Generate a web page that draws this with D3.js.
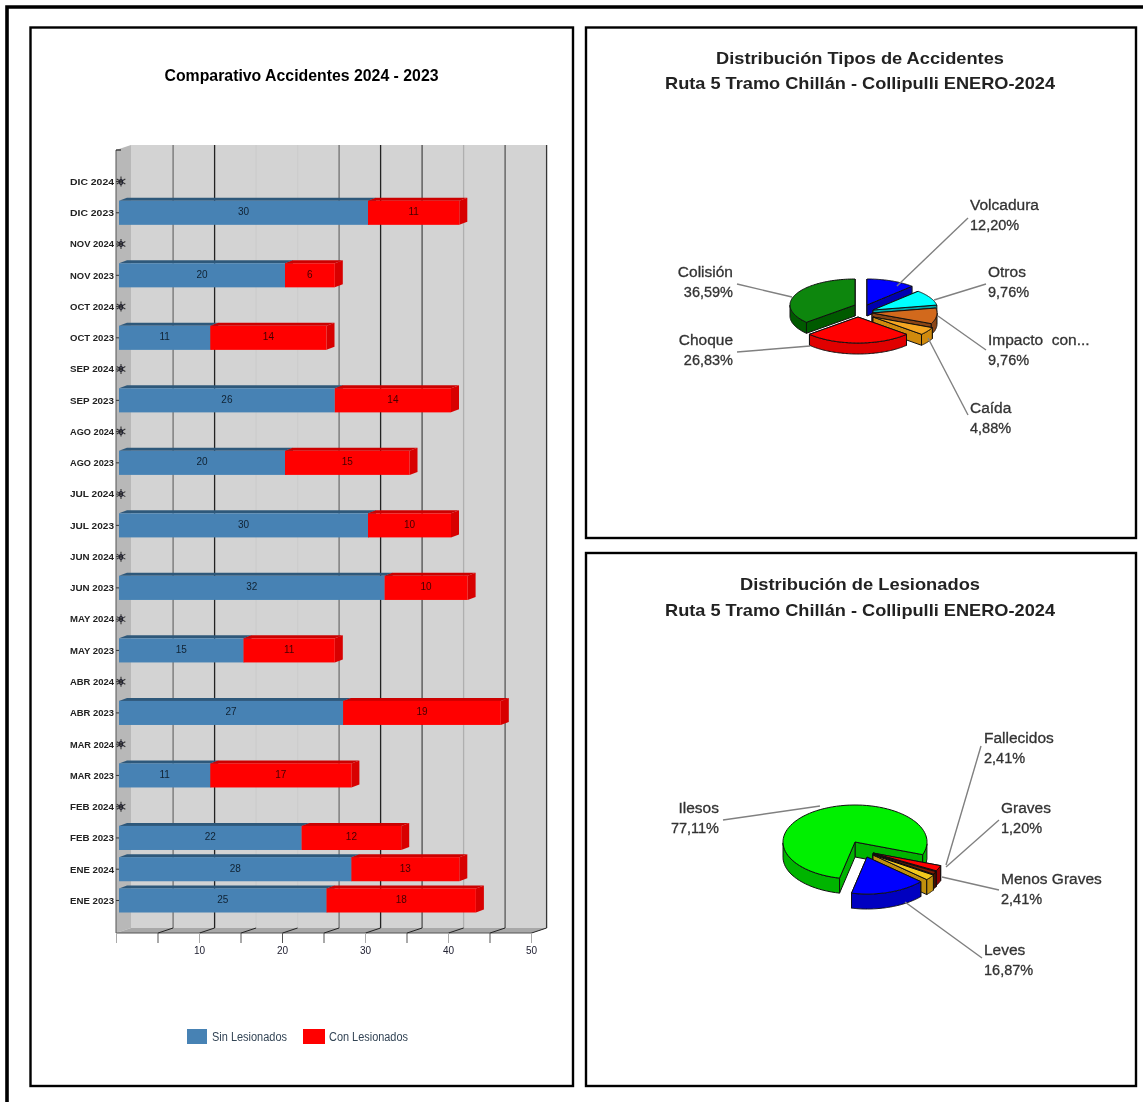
<!DOCTYPE html>
<html><head><meta charset="utf-8">
<script src="https://cdn.jsdelivr.net/npm/d3@7"></script>
<style>html,body{margin:0;padding:0;background:#fff;overflow:hidden}svg{display:block}text{font-family:"Liberation Sans",Arial,sans-serif;white-space:pre}</style>
</head><body><div id="c"></div>
<script>
const categories=["DIC 2024","DIC 2023","NOV 2024","NOV 2023","OCT 2024","OCT 2023","SEP 2024","SEP 2023","AGO 2024","AGO 2023","JUL 2024","JUL 2023","JUN 2024","JUN 2023","MAY 2024","MAY 2023","ABR 2024","ABR 2023","MAR 2024","MAR 2023","FEB 2024","FEB 2023","ENE 2024","ENE 2023"];
const sinLesionados=[0,30,0,20,0,11,0,26,0,20,0,30,0,32,0,15,0,27,0,11,0,22,28,25];
const conLesionados=[0,11,0,6,0,14,0,14,0,15,0,10,0,10,0,11,0,19,0,17,0,12,13,18];
const seriesNames=["Sin Lesionados","Con Lesionados"];
const xTicks=[10,20,30,40,50];
const tipos=["Volcadura","Otros","Impacto  con...","Caída","Choque","Colisión"];
const tiposPct=[12.20,9.76,9.76,4.88,26.83,36.59];
const lesionados=["Fallecidos","Graves","Menos Graves","Leves","Ilesos"];
const lesionadosPct=[2.41,1.20,2.41,16.87,77.11];

(function(){
const svg=d3.select("#c").append("svg").attr("width",1143).attr("height",1102);
const defs=svg.append("defs");
defs.append("filter").attr("id","soft").attr("filterUnits","userSpaceOnUse").attr("x",0).attr("y",0).attr("width",1143).attr("height",1102)
  .append("feGaussianBlur").attr("stdDeviation",0.45);
defs.append("filter").attr("id","soft2").attr("filterUnits","userSpaceOnUse").attr("x",0).attr("y",0).attr("width",1143).attr("height",1102)
  .append("feGaussianBlur").attr("stdDeviation",0.3);

// frames
svg.append("path").attr("d","M7,1102V7H1143").attr("fill","none").attr("stroke","#000").attr("stroke-width",3.6);
[[30.5,27.5,542.5,1058.5],[586,27.5,550,510.5],[586,553,550,533]].forEach(r=>{
  svg.append("rect").attr("x",r[0]).attr("y",r[1]).attr("width",r[2]).attr("height",r[3]).attr("fill","#fff").attr("stroke","#000").attr("stroke-width",2.4);
});

// ===== bar chart =====
const x=d3.scaleLinear().domain([0,50]).range([116,531]);
const y=d3.scaleBand().domain(categories).range([169.5,912.5]).paddingInner(0.23).paddingOuter(0);
const g=svg.append("g").attr("filter","url(#soft)");
const topY=145,bot=928,wallDX=15,wallDY=5;
g.append("rect").attr("x",131).attr("y",topY).attr("width",416).attr("height",bot-topY).attr("fill","#d3d3d3");
g.append("path").attr("d",`M${116},${topY+wallDY}L${131},${topY}V${bot}L116,${bot+wallDY}Z`).attr("fill","#b8b8b8");
g.append("path").attr("d",`M116,${bot+wallDY}L131,${bot}H547L532,${bot+wallDY}Z`).attr("fill","#a8a8a8");
g.append("path").attr("d",`M116,${topY+wallDY}V${bot+wallDY}H532`).attr("fill","none").attr("stroke","#555").attr("stroke-width",1);
g.append("line").attr("x1",116).attr("x2",121).attr("y1",topY+wallDY).attr("y2",topY+wallDY).attr("stroke","#222").attr("stroke-width",1.2);
// back grid lines
const gridVals=d3.range(5,51,5);
const gridOp={5:.55,10:1,15:.03,20:.03,25:.55,30:1,35:.75,40:.2,45:.7,50:.9};
g.selectAll(".gl").data(gridVals).enter().append("line").attr("class","gl")
  .attr("x1",d=>x(d)+wallDX+0.6).attr("x2",d=>x(d)+wallDX+0.6).attr("y1",topY).attr("y2",bot)
  .attr("stroke","#222").attr("stroke-width",1.3).attr("stroke-opacity",d=>gridOp[d]);
g.selectAll(".gs").data(gridVals).enter().append("line").attr("class","gs")
  .attr("x1",d=>x(d)+0.6).attr("x2",d=>x(d)+wallDX+0.6).attr("y1",bot+wallDY).attr("y2",bot)
  .attr("stroke","#222").attr("stroke-width",1);
// axis ticks below
const axis=d3.axisBottom(x).tickValues(d3.range(0,51,5)).tickSize(10).tickFormat(d=>xTicks.includes(d)?d:"");
const ax=g.append("g").attr("transform",`translate(0,${bot+wallDY})`).call(axis);
ax.select(".domain").remove();
ax.selectAll(".tick line").attr("stroke",d=>d%10===5||d===20?"#555":"#aaa");
ax.selectAll("text").attr("font-size",10).attr("fill","#223").attr("y",14);
// category labels
const yc=d=>y(d)+y.bandwidth()/2;
g.selectAll(".cat").data(categories).enter().append("text").attr("class","cat")
  .attr("x",114).attr("y",yc).attr("dy","0.35em").attr("text-anchor","end")
  .attr("font-size",9.5).attr("font-weight","bold").attr("fill","#222").attr("textLength",44).attr("lengthAdjust","spacingAndGlyphs").text(d=>d);
g.selectAll(".ctick").data(categories).enter().append("line").attr("class","ctick")
  .attr("x1",116).attr("x2",120).attr("y1",yc).attr("y2",yc).attr("stroke","#333");
// bars
const barDX=3,depthX=8,depthY=3;
const rows=categories.map((c,i)=>({c,a:sinLesionados[i],b:conLesionados[i]}));
const seg=g.selectAll(".row").data(rows.filter(r=>r.a+r.b>0)).enter().append("g").attr("class","row");
function box(sel,v0,v1,col,topc,sidec){
  sel.append("path").attr("d",d=>{const X0=x(v0(d))+barDX,X1=x(v1(d))+barDX,Y=y(d.c);return `M${X0},${Y}L${X0+depthX},${Y-depthY}H${X1+depthX}L${X1},${Y}Z`}).attr("fill",topc);
  sel.append("path").attr("d",d=>{const X1=x(v1(d))+barDX,Y=y(d.c),H=y.bandwidth();return `M${X1},${Y}L${X1+depthX},${Y-depthY}V${Y+H-depthY}L${X1},${Y+H}Z`}).attr("fill",sidec);
  sel.append("rect").attr("x",d=>x(v0(d))+barDX).attr("y",d=>y(d.c)).attr("width",d=>x(v1(d))-x(v0(d))).attr("height",y.bandwidth()).attr("fill",col);
}
box(seg,d=>0,d=>d.a,"#4682b4","#2f587a","#2f587a");
box(seg,d=>d.a,d=>d.a+d.b,"#ff0000","#cc0000","#d80000");
seg.append("text").attr("x",d=>x(d.a/2)+barDX).attr("y",d=>yc(d.c)-1).attr("dy","0.35em").attr("text-anchor","middle").attr("font-size",10).attr("fill","#123").text(d=>d.a);
seg.append("text").attr("x",d=>x(d.a+d.b/2)+barDX).attr("y",d=>yc(d.c)-1).attr("dy","0.35em").attr("text-anchor","middle").attr("font-size",10).attr("fill","#400").text(d=>d.b);
// zero labels on empty rows
const zr=rows.filter(r=>r.a+r.b===0);
const star=d3.symbol().type(d3.symbolAsterisk||d3.symbolCross).size(70);
g.selectAll(".zs").data(zr).enter().append("path").attr("class","zs").attr("d",star).attr("transform",d=>`translate(121,${yc(d.c)})`).attr("fill","none").attr("stroke","#333").attr("stroke-width",1.1);
g.selectAll(".zt").data(zr).enter().append("text").attr("class","zt").attr("x",121).attr("y",d=>yc(d.c)).attr("dy","0.35em").attr("text-anchor","middle").attr("font-size",9).attr("font-weight","bold").attr("fill","#223").text("0");
// legend
const legX=[187,303],legW=[20,22],legT=[212,329],legL=[75,79],legC=["#4682b4","#ff0000"];
seriesNames.forEach((n,i)=>{
  g.append("rect").attr("x",legX[i]).attr("y",1029).attr("width",legW[i]).attr("height",15).attr("fill",legC[i]);
  g.append("text").attr("x",legT[i]).attr("y",1041).attr("font-size",12).attr("fill","#345").attr("textLength",legL[i]).attr("lengthAdjust","spacingAndGlyphs").text(n);
});
// titles
function title(t,cx,yy,len,fs,col){svg.append("text").attr("filter","url(#soft2)").attr("x",cx).attr("y",yy).attr("text-anchor","middle").attr("font-size",fs).attr("font-weight","bold").attr("fill",col).attr("textLength",len).attr("lengthAdjust","spacingAndGlyphs").text(t);}
title("Comparativo Accidentes 2024 - 2023",301.5,81,274,17,"#000");
title("Distribución Tipos de Accidentes",860,64,288,17,"#222");
title("Ruta 5 Tramo Chillán - Collipulli ENERO-2024",860,89,390,17,"#222");
title("Distribución de Lesionados",860,590,240,17,"#222");
title("Ruta 5 Tramo Chillán - Collipulli ENERO-2024",860,616,390,17,"#222");

// ===== pies =====
function pie3d(opts){
  const pg=svg.append("g").attr("filter","url(#soft2)");
  const pie=d3.pie().sort(null).startAngle(opts.start).endAngle(opts.start+2*Math.PI);
  const arcs=pie(opts.values).map((a,i)=>({...a,i,mid:(a.startAngle+a.endAngle)/2}));
  const pt=(a,r,ox,oy,z)=>[opts.cx+ox+Math.sin(a)*opts.rx*r,opts.cy+oy-Math.cos(a)*opts.ry*r+z];
  const line=d3.line();
  const order=arcs.slice().sort((p,q)=>(opts.off[p.i][1]-Math.cos(p.mid)*opts.ry*.5)-(opts.off[q.i][1]-Math.cos(q.mid)*opts.ry*.5));
  order.forEach(s=>{
    const [ox,oy]=opts.off[s.i],T=opts.thick,A=s.startAngle,B=s.endAngle;
    const samples=d3.range(0,81).map(k=>A+(B-A)*k/80);
    const stroke="#111",sw=1;
    const face=[pt(0,0,ox,oy,0),...samples.map(a=>pt(a,1,ox,oy,0))];
    const wall=(pts)=>pg.append("path").attr("d",line(pts)+"Z").attr("fill",opts.wall[s.i]).attr("stroke",stroke).attr("stroke-width",sw).attr("stroke-linejoin","round");
    // radial walls
    [A,B].map(a=>[a,pt(a,1,ox,oy,0)]).sort((u,v)=>u[1][1]-v[1][1]).forEach(([a,p])=>{
      const c=pt(0,0,ox,oy,0);
      wall([c,p,[p[0],p[1]+T],[c[0],c[1]+T]]);
    });
    // outer rim: each contiguous front-facing run
    let run=[];
    const flush=()=>{ if(run.length>1){
        const upper=run.map(a=>pt(a,1,ox,oy,0));
        const lower=run.map(a=>pt(a,1,ox,oy,T)).reverse();
        wall([...upper,...lower]);
      } run=[]; };
    samples.forEach(a=>{ if(Math.cos(a)<0) run.push(a); else flush(); });
    flush();
    pg.append("path").attr("d",line(face)+"Z").attr("fill",opts.colors[s.i]).attr("stroke",stroke).attr("stroke-width",sw).attr("stroke-linejoin","round");
  });
  // leaders and labels
  opts.values.forEach((v,i)=>{
    const L=opts.labels[i];
    pg.append("path").attr("d",line(L.leader)).attr("fill","none").attr("stroke","#808080").attr("stroke-width",1.4);
    const pct=d3.format(".2f")(v).replace(".",",")+"%";
    [opts.names[i],pct].forEach((t,k)=>{
      pg.append("text").attr("x",L.x).attr("y",L.y+k*20).attr("text-anchor",L.anchor).attr("font-size",k?14.5:15.5).attr("font-weight",500).attr("fill","#333").attr("stroke","#333").attr("stroke-width",.3).text(t);
    });
  });
}
pie3d({values:tiposPct,names:tipos,start:0,cx:862,cy:308,rx:65,ry:26,thick:11,
  off:[[5,-3],[11,2],[10,5],[11,9],[-4,9],[-7,-3]],
  colors:["#0000ff","#00ffff","#d2691e","#f5a623","#ff0000","#0a860a"],
  wall:["#0000b0","#00a8a8","#8b4513","#d08a10","#e00000","#005a00"],
  labels:[
   {x:970,y:210,anchor:"start",leader:[[968,218],[897,286]]},
   {x:988,y:277,anchor:"start",leader:[[986,284],[934,300]]},
   {x:988,y:345,anchor:"start",leader:[[986,350],[938,316]]},
   {x:970,y:413,anchor:"start",leader:[[968,415],[928,338]]},
   {x:733,y:345,anchor:"end",leader:[[737,352],[810,346]]},
   {x:733,y:277,anchor:"end",leader:[[737,284],[792,297]]}
  ]});
pie3d({values:lesionadosPct,names:lesionados,start:110*Math.PI/180,cx:855,cy:842,rx:72,ry:37,thick:15,
  off:[[18,11],[18,12],[18,13],[12,15],[0,0]],
  colors:["#ff0000","#7a1a00","#f2c81e","#0000ff","#00f000"],
  wall:["#900000","#4a0a00","#c09010","#0000c0","#00b400"],
  labels:[
   {x:984,y:743,anchor:"start",leader:[[981,746],[946,865]]},
   {x:1001,y:813,anchor:"start",leader:[[999,820],[946,867]]},
   {x:1001,y:884,anchor:"start",leader:[[999,890],[942,877]]},
   {x:984,y:955,anchor:"start",leader:[[982,958],[905,902]]},
   {x:719,y:813,anchor:"end",leader:[[723,820],[820,806]]}
  ]});
})();
</script></body></html>
